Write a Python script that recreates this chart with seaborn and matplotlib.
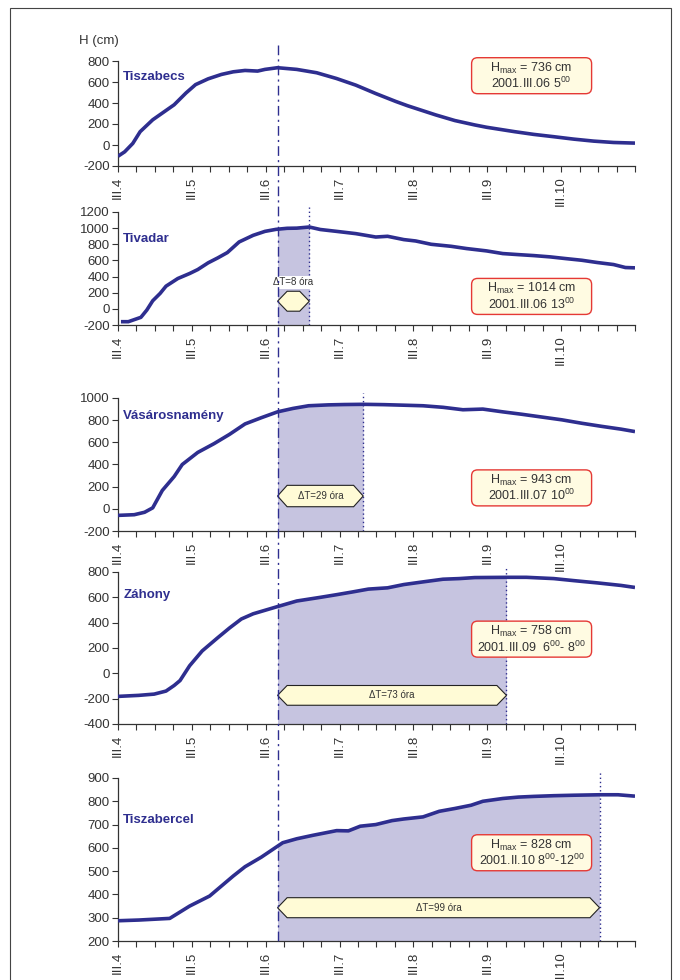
import numpy as np
import pandas as pd
import seaborn as sns
import matplotlib.pyplot as plt
from matplotlib.patches import FancyBboxPatch, Polygon, Rectangle
from matplotlib.lines import Line2D
from matplotlib.ticker import FixedLocator, MultipleLocator

# time axis: days since III.4 00:00
t_tiszabecs = [0.0, 0.09, 0.2, 0.3, 0.47, 0.76, 0.92, 1.05, 1.22, 1.4, 1.56, 1.72, 1.89, 1.99, 2.16,
               2.42, 2.69, 2.96, 3.22, 3.49, 3.76, 3.92, 4.3, 4.56, 4.83, 4.99, 5.37, 5.63, 5.9,
               6.17, 6.44, 6.71, 7.0]
h_tiszabecs = [-107, -65, 15, 127, 240, 383, 495, 575, 630, 672, 697, 710, 704, 720, 736,
               720, 688, 633, 570, 490, 415, 374, 287, 233, 191, 169, 127, 101, 79,
               56, 37, 24, 18]

t_tivadar = [0.04, 0.14, 0.31, 0.39, 0.47, 0.57, 0.65, 0.81, 0.97, 1.08, 1.22, 1.35, 1.48, 1.64,
             1.83, 1.99, 2.14, 2.29, 2.42, 2.59, 2.74, 2.96, 3.22, 3.49, 3.65, 3.87, 4.03, 4.24,
             4.51, 4.72, 4.99, 5.21, 5.42, 5.63, 5.85, 6.06, 6.28, 6.49, 6.71, 6.87, 7.0]
h_tivadar = [-159, -159, -105, -15, 100, 191, 281, 376, 438, 487, 570, 631, 697, 829,
             911, 960, 985, 998, 1000, 1014, 983, 960, 932, 890, 899, 858, 841, 800,
             775, 747, 718, 685, 672, 660, 644, 623, 602, 574, 549, 512, 508]

t_vasaros = [0.0, 0.22, 0.36, 0.47, 0.6, 0.76, 0.87, 1.08, 1.3, 1.51, 1.72, 1.94, 2.16, 2.37,
             2.58, 2.85, 3.06, 3.32, 3.6, 3.87, 4.13, 4.4, 4.67, 4.94, 5.21, 5.47, 5.74, 6.01,
             6.28, 6.55, 6.81, 7.0]
h_vasaros = [-59, -53, -31, 9, 166, 291, 400, 509, 588, 672, 766, 822, 875, 906,
             930, 938, 941, 943, 940, 935, 930, 916, 894, 900, 875, 853, 828, 803,
             772, 744, 719, 697]

t_zahony = [0.0, 0.28, 0.49, 0.65, 0.76, 0.84, 0.97, 1.14, 1.35, 1.51, 1.67, 1.83, 2.16, 2.42,
            2.74, 2.96, 3.17, 3.39, 3.65, 3.87, 4.13, 4.4, 4.62, 4.83, 5.26, 5.53, 5.9, 6.17,
            6.49, 6.81, 7.0]
h_zahony = [-182, -174, -164, -140, -96, -57, 60, 177, 281, 358, 429, 470, 527, 571,
            600, 621, 642, 665, 675, 701, 722, 743, 748, 756, 758, 758, 748, 732,
            714, 694, 678]

t_tiszabercel = [0.0, 0.28, 0.7, 0.97, 1.24, 1.4, 1.56, 1.72, 1.94, 2.16, 2.23, 2.42, 2.64, 2.96,
                 3.12, 3.28, 3.49, 3.71, 3.87, 4.13, 4.35, 4.56, 4.78, 4.94, 5.21, 5.42, 5.63,
                 5.9, 6.17, 6.52, 6.77, 7.0]
h_tiszabercel = [287, 290, 297, 350, 393, 436, 479, 519, 560, 607, 622, 639, 654, 674,
                 673, 693, 700, 717, 724, 733, 757, 769, 783, 800, 812, 818, 821,
                 824, 826, 828, 828, 822]

stations = ['Tiszabecs', 'Tivadar', 'Vásárosnamény', 'Záhony', 'Tiszabercel']
times = [t_tiszabecs, t_tivadar, t_vasaros, t_zahony, t_tiszabercel]
levels = [h_tiszabecs, h_tivadar, h_vasaros, h_zahony, h_tiszabercel]
day_labels = ['III.4', 'III.5', 'III.6', 'III.7', 'III.8', 'III.9', 'III.10']
ylims = [(-200, 800), (-200, 1200), (-200, 1000), (-400, 800), (200, 900)]
ysteps = [200, 200, 200, 200, 100]
name_y = [650, 870, 840, 620, 720]

hmax_txt = [r'H$_{\mathregular{max}}$ = 736 cm', r'H$_{\mathregular{max}}$ = 1014 cm',
            r'H$_{\mathregular{max}}$ = 943 cm', r'H$_{\mathregular{max}}$ = 758 cm',
            r'H$_{\mathregular{max}}$ = 828 cm']
date_txt = [r'2001.III.06 5$^{\mathregular{00}}$', r'2001.III.06 13$^{\mathregular{00}}$',
            r'2001.III.07 10$^{\mathregular{00}}$',
            r'2001.III.09  6$^{\mathregular{00}}$- 8$^{\mathregular{00}}$',
            r'2001.II.10 8$^{\mathregular{00}}$-12$^{\mathregular{00}}$']
box_center = [(5.6, 660), (5.6, 154), (5.6, 189), (5.6, 270), (5.6, 579)]

t_start = 2.16
t_peak = [None, 2.59, 3.32, 5.26, 6.52]
dt_txt = [None, 'ΔT=8 óra', 'ΔT=29 óra', 'ΔT=73 óra', 'ΔT=99 óra']
hex_y = [None, (-29, 218), (19, 212), (-252, -96), (300, 386)]

# axes boxes in pixels: top, bottom (figure 680x980)
panel_px = [(61, 166), (212, 325), (398, 531), (572, 724), (778, 941)]
left_px, right_px = 118, 635

line_col = '#2e2e8f'
shade_col = '#c6c4e0'
ink = '#333333'

sns.set_theme(style='ticks')
plt.rcParams['font.family'] = ['Liberation Sans', 'DejaVu Sans']
plt.rcParams['mathtext.fontset'] = 'custom'
plt.rcParams['mathtext.rm'] = 'Liberation Sans'
plt.rcParams['axes.unicode_minus'] = False

W, H = 680, 980
fig = plt.figure(figsize=(W / 100, H / 100), dpi=100)
fig.patch.set_facecolor('white')

axes = []
for i in range(5):
    top, bot = panel_px[i]
    ax = fig.add_axes([left_px / W, 1 - bot / H, (right_px - left_px) / W, (bot - top) / H])
    axes.append(ax)
    df = pd.DataFrame({'t': times[i], 'h': levels[i]})
    lo, hi = ylims[i]

    if t_peak[i] is not None:
        xs = np.linspace(t_start, t_peak[i], 200)
        ax.fill_between(xs, lo, np.interp(xs, df['t'], df['h']), color=shade_col, lw=0, zorder=1)
        ax.axvline(t_peak[i], ymin=0, ymax=1.04, color=line_col, lw=1, ls=(0, (1, 2)),
                   clip_on=False, zorder=2)

    sns.lineplot(data=df, x='t', y='h', ax=ax, color=line_col, lw=2.6, zorder=4,
                 solid_capstyle='butt')

    ax.set_xlim(0, 7)
    ax.set_ylim(lo, hi)
    ax.xaxis.set_major_locator(FixedLocator(range(7)))
    ax.xaxis.set_minor_locator(MultipleLocator(0.25))
    ax.set_xticklabels(day_labels, rotation=90, fontsize=9.5, color=ink)
    ax.yaxis.set_major_locator(MultipleLocator(ysteps[i]))
    ax.tick_params(axis='y', labelsize=9.5, colors=ink, length=4, width=0.8, pad=2)
    ax.tick_params(axis='x', which='both', length=4.5, width=0.8, color=ink, pad=3)
    ax.set_xlabel('')
    ax.set_ylabel('')
    sns.despine(ax=ax)
    for s in ['left', 'bottom']:
        ax.spines[s].set_color(ink)
        ax.spines[s].set_linewidth(0.9)

    ax.text(0.07, name_y[i], stations[i], color=line_col, fontsize=9.5, fontweight='bold',
            ha='left', va='center', zorder=5)

    # Hmax box
    fig.canvas.draw()
    cx, cy = ax.transData.transform(box_center[i])
    cx, cy = cx / 100, cy / 100
    box = FancyBboxPatch((cx - 0.6, cy - 0.18), 1.2, 0.36,
                         boxstyle='round,pad=0,rounding_size=0.06',
                         transform=fig.dpi_scale_trans, fc='#fffbe2', ec='#e53935', lw=1, zorder=6)
    fig.add_artist(box)
    fig.text(cx / (W / 100), (cy + 0.075) / (H / 100), hmax_txt[i], ha='center', va='center',
             fontsize=9, color=ink, zorder=7)
    fig.text(cx / (W / 100), (cy - 0.08) / (H / 100), date_txt[i], ha='center', va='center',
             fontsize=9, color=ink, zorder=7)

    # delta T hexagon
    if t_peak[i] is not None:
        y0, y1 = hex_y[i]
        ym = (y0 + y1) / 2
        d = 0.13
        hexa = Polygon([(t_start, ym), (t_start + d, y1), (t_peak[i] - d, y1), (t_peak[i], ym),
                        (t_peak[i] - d, y0), (t_start + d, y0)], closed=True,
                       fc='#fffbd6', ec='#222222', lw=0.8, zorder=5)
        ax.add_patch(hexa)
        if i == 1:
            ax.text((t_start + t_peak[i]) / 2, 330, dt_txt[i], ha='center', va='center',
                    fontsize=7, color=ink, zorder=6,
                    bbox=dict(fc='white', ec='none', pad=1.2))
        else:
            ax.text((t_start + t_peak[i]) / 2, ym, dt_txt[i], ha='center', va='center',
                    fontsize=7, color=ink, zorder=6)

# y-axis title
fig.text(99 / W, 1 - 41 / H, 'H (cm)', ha='center', va='center', fontsize=9.5, color=ink)

# dash-dot line at start of flood wave through all panels
fig.canvas.draw()
xpix = axes[0].transData.transform((t_start, 0))[0]
fig.add_artist(Line2D([xpix / W, xpix / W], [1 - 45 / H, 1 - 941 / H], transform=fig.transFigure,
                      color=line_col, lw=1, ls=(0, (7, 3, 1.5, 3)), zorder=8))

# outer frame
fig.add_artist(Rectangle((10 / W, -0.05), 661 / W, 1 - 8 / H + 0.05, transform=fig.transFigure,
                         fill=False, ec='#444444', lw=0.8))

fig.savefig('out.png', dpi=100)
